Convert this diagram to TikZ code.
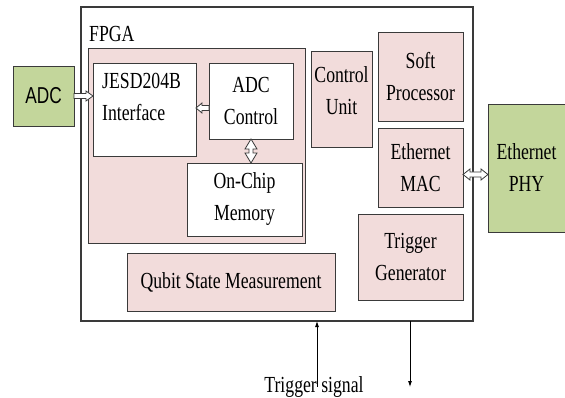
\documentclass[tikz,border=0pt]{standalone}
\usepackage{fontspec}
\setmainfont{Liberation Serif}[FakeStretch=0.77]
\newfontfamily\adcfont{Liberation Sans}[FakeStretch=0.75]
\usetikzlibrary{arrows.meta,calc}
\definecolor{pinkfill}{HTML}{F2DCDB}
\definecolor{greenfill}{HTML}{C3D69B}
\definecolor{edgegray}{HTML}{3A3A3A}
\begin{document}
\begin{tikzpicture}[x=1pt,y=-1pt,
  box/.style={draw=edgegray, line width=0.9pt, inner sep=0pt, outer sep=0pt, align=center, anchor=north west, font=\fontsize{23}{32}\selectfont},
  pinkbox/.style={box, fill=pinkfill},
  whitebox/.style={box, fill=white},
  greenbox/.style={box, fill=greenfill},
  txt/.style={inner sep=0pt, font=\fontsize{23}{32}\selectfont},
  blk/.style={draw=edgegray, fill=white, line width=0.8pt, line join=miter},
  % single-headed horizontal block arrow: head length, head half-width, shaft half-width
  harrow/.style n args={3}{to path={let \p1=(\tikztostart), \p2=(\tikztotarget), \n1={sign(\x2-\x1)} in
    (\x1,\y1+#3) -- (\x2-\n1*#1,\y1+#3) -- (\x2-\n1*#1,\y1+#2) -- (\x2,\y1) -- (\x2-\n1*#1,\y1-#2) -- (\x2-\n1*#1,\y1-#3) -- (\x1,\y1-#3) -- cycle}},
  % double-headed horizontal block arrow
  hdarrow/.style n args={3}{to path={let \p1=(\tikztostart), \p2=(\tikztotarget), \n1={sign(\x2-\x1)} in
    (\x1,\y1) -- (\x1+\n1*#1,\y1+#2) -- (\x1+\n1*#1,\y1+#3) -- (\x2-\n1*#1,\y1+#3) -- (\x2-\n1*#1,\y1+#2) -- (\x2,\y1) -- (\x2-\n1*#1,\y1-#2) -- (\x2-\n1*#1,\y1-#3) -- (\x1+\n1*#1,\y1-#3) -- (\x1+\n1*#1,\y1-#2) -- cycle}},
  % double-headed vertical block arrow
  vdarrow/.style n args={3}{to path={let \p1=(\tikztostart), \p2=(\tikztotarget), \n1={sign(\y2-\y1)} in
    (\x1,\y1) -- (\x1+#2,\y1+\n1*#1) -- (\x1+#3,\y1+\n1*#1) -- (\x1+#3,\y2-\n1*#1) -- (\x1+#2,\y2-\n1*#1) -- (\x1,\y2) -- (\x1-#2,\y2-\n1*#1) -- (\x1-#3,\y2-\n1*#1) -- (\x1-#3,\y1+\n1*#1) -- (\x1-#2,\y1+\n1*#1) -- cycle}},
  sig/.style={draw=black, line width=0.8pt, -{Latex[length=6pt,width=4pt]}}
]
\useasboundingbox (0,0) rectangle (565,398);
% FPGA frame
\node[box, draw=edgegray, line width=1.3pt, fill=white, minimum width=392pt, minimum height=314pt] (fpga) at (81,7) {};
\node[txt, anchor=base west] (fpgalbl) at (89,42) {FPGA};
% inner group
\node[pinkbox, minimum width=217pt, minimum height=195pt] (grp) at (88,48) {};
\node[whitebox, minimum width=103pt, minimum height=93pt] (jesd) at (93,63) {};
\node[txt, anchor=north west, align=left] (jesdlbl) at (102,73) {JESD204B\\Interface};
\node[whitebox, minimum width=84pt, minimum height=76pt] (adcctl) at (209,63) {ADC\\Control};
\node[whitebox, minimum width=115pt, minimum height=73pt] (mem) at (187,163) {On-Chip\\Memory};
% right-hand blocks
\node[pinkbox, minimum width=61pt, minimum height=96pt] (cu) at (311,51) {};
\node[txt, align=center] (culbl) at (341.5,91) {Control\\Unit};
\node[pinkbox, minimum width=85pt, minimum height=89pt] (soft) at (378,32) {Soft\\Processor};
\node[pinkbox, minimum width=85pt, minimum height=79pt] (mac) at (378,128) {Ethernet\\MAC};
\node[pinkbox, minimum width=105pt, minimum height=86pt] (tg) at (358,214) {Trigger\\Generator};
\node[pinkbox, minimum width=208pt, minimum height=58pt] (qsm) at (127,253) {Qubit State Measurement};
% external blocks
\node[greenbox, minimum width=61pt, minimum height=60pt, font=\adcfont\fontsize{23}{32}\selectfont] (adc) at (13,66) {ADC};
\node[greenbox, minimum width=77pt, minimum height=128pt] (phy) at (488,104) {Ethernet\\PHY};
% hollow block arrows
\draw[blk] (adc.east) to[harrow={7pt}{5pt}{2.5pt}] (adc.east -| jesd.west);
\draw[blk] ([yshift=-7pt]adcctl.west) to[harrow={6pt}{5pt}{2.5pt}] ([yshift=-7pt]adcctl.west -| jesd.east);
\draw[blk] (adcctl.south) to[vdarrow={10pt}{6pt}{2pt}] (adcctl.south |- mem.north);
\draw[blk] ([yshift=-7pt]mac.east) to[hdarrow={7pt}{5.5pt}{2.5pt}] ([yshift=-7pt]mac.east -| phy.west);
% trigger signals
\node[txt, anchor=base] (trig) at (314,392) {Trigger signal};
\coordinate (tin) at (317,321);
\coordinate (tout) at (410,321);
\coordinate (toutend) at (410,387);
\draw[sig] (trig.center -| tin) -- (tin);
\draw[sig] (tout) -- (toutend);
\end{tikzpicture}
\end{document}
